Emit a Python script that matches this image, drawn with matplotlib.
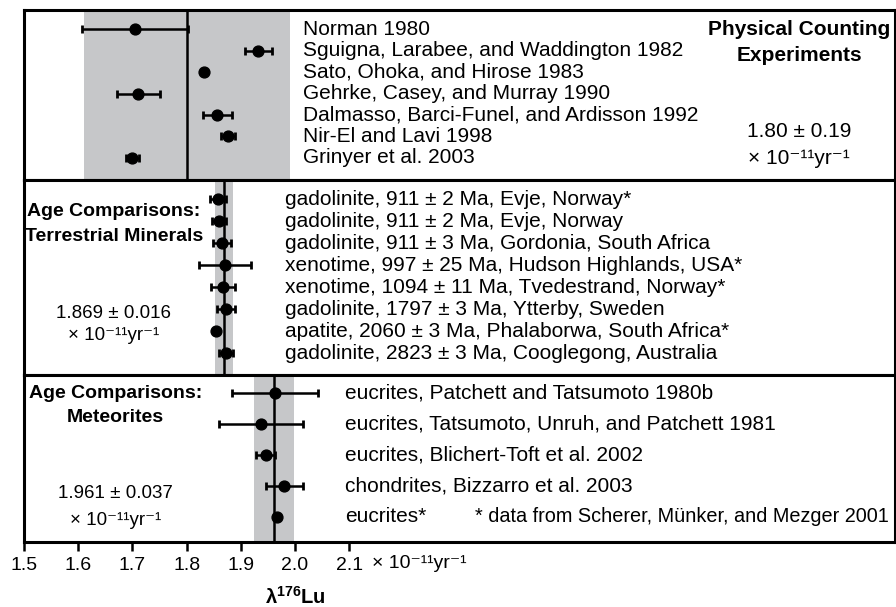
import matplotlib
matplotlib.use('Agg')
import matplotlib.pyplot as plt
import matplotlib.transforms as mtransforms

plt.rcParams['font.family'] = ['Liberation Sans', 'DejaVu Sans']
plt.rcParams['mathtext.fontset'] = 'custom'
plt.rcParams['mathtext.rm'] = 'Liberation Sans'
plt.rcParams['mathtext.it'] = 'Liberation Sans:italic'
plt.rcParams['mathtext.bf'] = 'Liberation Sans:bold'

# physical counting experiments
phys_labels = ['Norman 1980',
               'Sguigna, Larabee, and Waddington 1982',
               'Sato, Ohoka, and Hirose 1983',
               'Gehrke, Casey, and Murray 1990',
               'Dalmasso, Barci-Funel, and Ardisson 1992',
               'Nir-El and Lavi 1998',
               'Grinyer et al. 2003']
phys_vals = [1.705, 1.932, 1.832, 1.711, 1.857, 1.876, 1.700]
phys_errs = [0.098, 0.025, 0.0, 0.039, 0.026, 0.013, 0.012]
phys_mean, phys_sd = 1.80, 0.19

# age comparisons, terrestrial minerals
terr_labels = ['gadolinite, 911 ± 2 Ma, Evje, Norway*',
               'gadolinite, 911 ± 2 Ma, Evje, Norway',
               'gadolinite, 911 ± 3 Ma, Gordonia, South Africa',
               'xenotime, 997 ± 25 Ma, Hudson Highlands, USA*',
               'xenotime, 1094 ± 11 Ma, Tvedestrand, Norway*',
               'gadolinite, 1797 ± 3 Ma, Ytterby, Sweden',
               'apatite, 2060 ± 3 Ma, Phalaborwa, South Africa*',
               'gadolinite, 2823 ± 3 Ma, Cooglegong, Australia']
terr_vals = [1.858, 1.860, 1.865, 1.871, 1.867, 1.873, 1.854, 1.873]
terr_errs = [0.0155, 0.013, 0.016, 0.048, 0.022, 0.016, 0.0, 0.0135]
terr_mean, terr_sd = 1.869, 0.016

# age comparisons, meteorites
met_labels = ['eucrites, Patchett and Tatsumoto 1980b',
              'eucrites, Tatsumoto, Unruh, and Patchett 1981',
              'eucrites, Blichert-Toft et al. 2002',
              'chondrites, Bizzarro et al. 2003',
              'eucrites*']
met_vals = [1.963, 1.937, 1.946, 1.980, 1.966]
met_errs = [0.080, 0.077, 0.018, 0.034, 0.005]
met_mean, met_sd = 1.961, 0.037

xticks = [1.5, 1.6, 1.7, 1.8, 1.9, 2.0, 2.1]

GREY = '#c6c7c9'
UNIT = '× 10⁻¹¹yr⁻¹'
FS = 15

fig = plt.figure(figsize=(8.96, 6.07), dpi=100)
L, W = 24 / 896, 871 / 896
ax_top = fig.add_axes([L, 1 - 180 / 607, W, 170 / 607])
ax_mid = fig.add_axes([L, 1 - 375 / 607, W, 195 / 607])
ax_bot = fig.add_axes([L, 1 - 542 / 607, W, 167 / 607])


def panel(ax, vals, errs, labels, mean, sd, ylim, label_x):
    ax.axvspan(mean - sd, mean + sd, color=GREY, lw=0, zorder=0)
    ax.axvline(mean, color='black', lw=1.8, zorder=1)
    y = list(range(len(vals)))
    ax.errorbar(vals, y, xerr=errs, fmt='o', ms=7.8, color='black',
                ecolor='black', elinewidth=1.8, capsize=3, capthick=2, zorder=3)
    for yi, lab in zip(y, labels):
        ax.text(label_x, yi, lab, ha='left', va='center', fontsize=FS)
    ax.set_xlim(1.5, 3.107)
    ax.set_ylim(*ylim)
    for s in ax.spines.values():
        s.set_linewidth(2.2)
    ax.tick_params(left=False, labelleft=False, bottom=False, labelbottom=False)


def lines(ax, x, ys, texts, bold, size):
    for yy, t in zip(ys, texts):
        ax.text(x, yy, t, ha='center', va='center', fontsize=size,
                fontweight='bold' if bold else 'normal', transform=ax.transAxes)


panel(ax_top, phys_vals, phys_errs, phys_labels, phys_mean, phys_sd, (7.03, -0.9), 2.015)
panel(ax_mid, terr_vals, terr_errs, terr_labels, terr_mean, terr_sd, (7.99, -0.88), 1.9815)
panel(ax_bot, met_vals, met_errs, met_labels, met_mean, met_sd, (4.82, -0.59), 2.092)

lines(ax_top, 0.89, [0.886, 0.735], ['Physical Counting', 'Experiments'], True, FS)
lines(ax_top, 0.89, [0.284, 0.128], ['%.2f ± %.2f' % (phys_mean, phys_sd), UNIT], False, FS)
lines(ax_mid, 0.103, [0.837, 0.709], ['Age Comparisons:', 'Terrestrial Minerals'], True, 14)
lines(ax_mid, 0.103, [0.313, 0.205], ['%.3f ± %.3f' % (terr_mean, terr_sd), UNIT], False, 13.5)
lines(ax_bot, 0.105, [0.890, 0.747], ['Age Comparisons:', 'Meteorites'], True, 14)
lines(ax_bot, 0.105, [0.292, 0.126], ['%.3f ± %.3f' % (met_mean, met_sd), UNIT], False, 13.5)

ax_bot.text(2.332, len(met_vals) - 1, '* data from Scherer, Münker, and Mezger 2001',
            ha='left', va='center', fontsize=14.3)

# bottom axis
ax_bot.tick_params(bottom=True, labelbottom=True, direction='out', length=6.5,
                   width=1.8, labelsize=14, pad=4)
ax_bot.set_xticks(xticks)
ax_bot.set_xticklabels(['%.1f' % t for t in xticks])
tr = mtransforms.blended_transform_factory(ax_bot.transData, ax_bot.transAxes)
ax_bot.text(2.1415, -0.126, UNIT, ha='left', va='center', fontsize=14, transform=tr)
ax_bot.text(2.0, -0.37, 'λ$^{\\mathbf{176}}$Lu', ha='center', va='baseline',
            fontsize=14.5, fontweight='bold', transform=tr)

fig.savefig('out.png', dpi=100)
